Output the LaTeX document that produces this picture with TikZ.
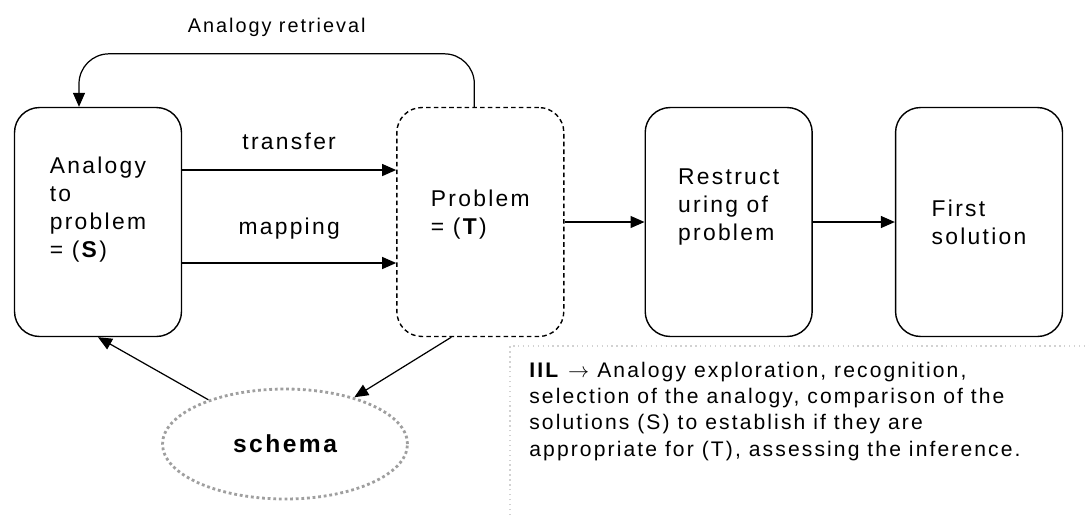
\documentclass[tikz,border=0pt]{standalone}
\usepackage{fontspec}
\setmainfont{Liberation Sans}[LetterSpace=10]
\usetikzlibrary{arrows.meta, positioning, shapes.geometric}

\begin{document}
\begin{tikzpicture}[
  x=0.02cm, y=-0.02cm,
  stage/.style={rectangle, draw, line width=0.8pt, rounded corners=0.5cm, minimum width=3.34cm, minimum height=4.58cm, align=left, font=\fontsize{13}{15.9}\selectfont},
  target/.style={stage, dash pattern=on 2.6pt off 1.8pt},
  schemabox/.style={ellipse, draw=gray!75, line width=1.6pt, dash pattern=on 1.6pt off 1.6pt, minimum width=4.9cm, minimum height=2.2cm, font=\bfseries\fontsize{14}{16}\selectfont},
  lbl/.style={inner sep=0, font=\fontsize{13}{15}\selectfont},
  note/.style={inner sep=0, align=left, font=\fontsize{12}{14.9}\selectfont},
  arrow/.style={-{Triangle[length=0.28cm, width=0.24cm]}, line width=0.7pt}
]
\clip (0,0) rectangle (1089,515);

\node[stage, text depth=0.6cm] (ana) at (98,222) {Analogy\\to\\problem\\= (\textbf{S})};
\node[target, text depth=0.4cm, right=4.28cm of ana] (prob) {Problem\\= (\textbf{T})};
\node[stage, text depth=0.7cm, right=1.6cm of prob] (restr) {Restruct\\uring of\\problem};
\node[stage, right=1.64cm of restr] (first) {First\\solution};
\node[schemabox] (schema) at (285,444) {schema};
\node[note, anchor=north west] (iil) at (529,362) {\textbf{IIL} $\rightarrow$ Analogy exploration, recognition,\\selection of the analogy, comparison of the\\solutions (S) to establish if they are\\appropriate for (T), assessing the inference.};

% frame round the note
\draw[gray!35, line width=0.8pt, dotted] (510,520) |- (1095,346);

\draw[arrow] ([yshift=1.04cm]ana.east) -- node[lbl, above=0.4cm] {transfer} ([yshift=1.04cm]prob.west);
\draw[arrow] ([yshift=-0.82cm]ana.east) -- node[lbl, above=0.47cm] {mapping} ([yshift=-0.82cm]prob.west);
\draw[arrow] (prob) -- (restr);
\draw[arrow] (restr) -- (first);
\draw[arrow, rounded corners=0.6cm] ([xshift=-0.12cm]prob.north) -- ++(0,-53) -| node[lbl, pos=0.25, above=0.34cm, font=\fontsize{11.3}{14}\selectfont] {Analogy retrieval} ([xshift=-0.38cm]ana.north);
\draw[arrow] ([xshift=-0.58cm]prob.south) -- (schema.34);
\draw[arrow] (schema.150) -- (ana.south);

\end{tikzpicture}
\end{document}
